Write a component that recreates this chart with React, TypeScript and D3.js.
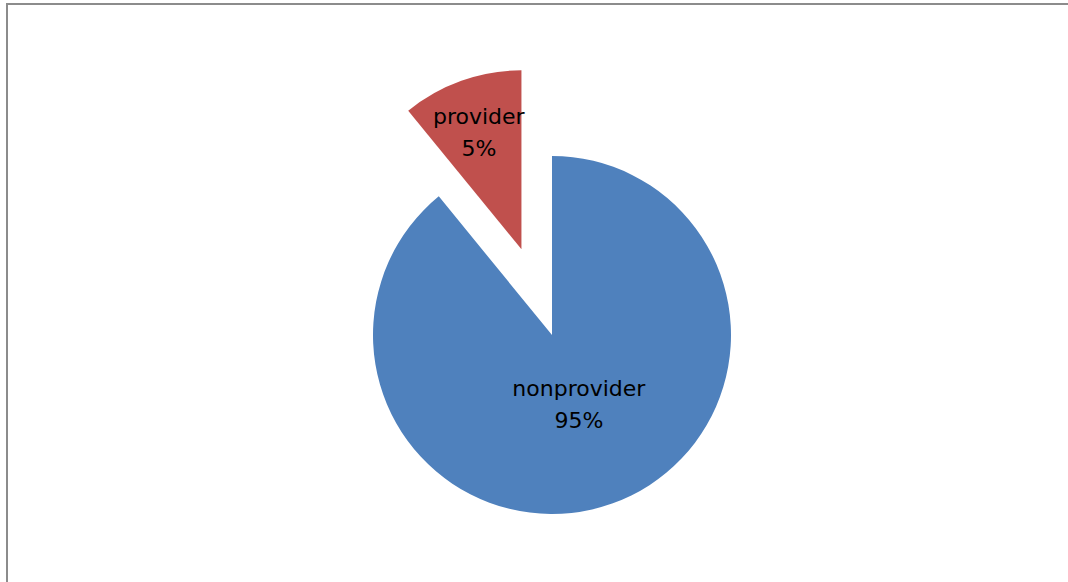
import React from "react";
import * as d3 from "d3";

const categories = ["nonprovider", "provider"];
const sliceValues = [89.1, 10.9];
const percentLabels = ["95%", "5%"];
const colors = ["#4F81BD", "#C0504D"];
const explode = [0, 91];
const labelRadius = [80, 118];

export default function App() {
  const W = 1068;
  const H = 582;
  const cx = 552;
  const cy = 335;
  const r = 179;
  const pie = d3.pie<number>().sort(null).startAngle(0).endAngle(2 * Math.PI);
  const arcs = pie(sliceValues);
  const arcGen = d3.arc<d3.PieArcDatum<number>>().innerRadius(0).outerRadius(r);

  return (
    <svg
      width={W}
      height={H}
      style={{ position: "fixed", left: 0, top: 0, background: "#fff" }}
    >
      <rect x={7} y={4} width={1200} height={700} fill="#fff" stroke="#8c8c8c" strokeWidth={2} />
      {arcs.map((a, i) => {
        const mid = (a.startAngle + a.endAngle) / 2;
        const ox = Math.sin(mid) * explode[i];
        const oy = -Math.cos(mid) * explode[i];
        const lx = Math.sin(mid) * labelRadius[i] - (i === 1 ? 3 : 0);
        const ly = -Math.cos(mid) * labelRadius[i];
        return (
          <g key={categories[i]} transform={`translate(${cx + ox},${cy + oy})`}>
            <path d={arcGen(a) || ""} fill={colors[i]} />
            <text
              x={lx}
              y={ly}
              textAnchor="middle"
              fontFamily="DejaVu Sans"
              fontSize={22}
              fill="#000"
            >
              <tspan x={lx} dy="-0.65em">{categories[i]}</tspan>
              <tspan x={lx} dy="1.45em">{percentLabels[i]}</tspan>
            </text>
          </g>
        );
      })}
    </svg>
  );
}
